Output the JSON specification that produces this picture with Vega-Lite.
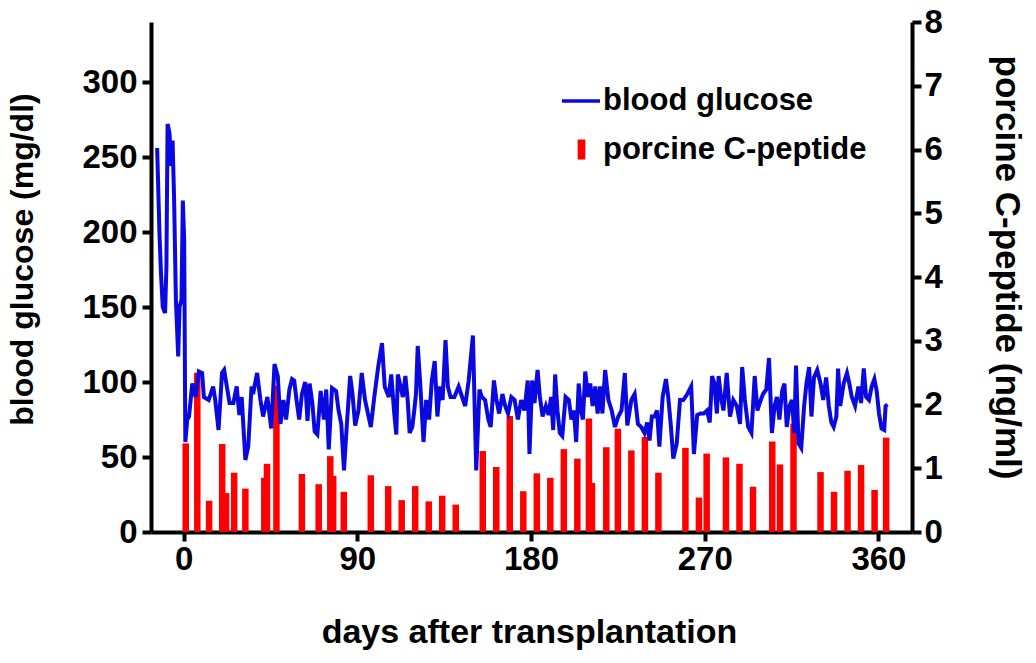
{
  "$schema": "https://vega.github.io/schema/vega-lite/v6.json",
  "width": 761,
  "height": 510,
  "autosize": {"type": "none"},
  "padding": {"left": 151, "top": 22, "right": 124, "bottom": 131},
  "background": "white",
  "config": {
    "view": {"stroke": null},
    "axis": {
      "grid": false,
      "domainColor": "black",
      "domainWidth": 4,
      "tickColor": "black",
      "tickWidth": 4,
      "tickSize": 9,
      "labelFont": "Liberation Sans",
      "labelFontWeight": "bold",
      "labelFontSize": 33,
      "labelColor": "black",
      "titleFont": "Liberation Sans",
      "titleFontWeight": "bold",
      "titleFontSize": 34,
      "titleColor": "black"
    },
    "legend": {
      "labelFont": "Liberation Sans",
      "labelFontWeight": "bold",
      "labelFontSize": 31,
      "labelColor": "black",
      "labelLimit": 0,
      "padding": 0,
      "titlePadding": 0
    }
  },
  "datasets": {
    "glucose": [
      {"day": -13.7, "glucose": 256}, {"day": -12.5, "glucose": 199}, {"day": -11.7, "glucose": 172}, {"day": -10.8, "glucose": 150},
      {"day": -9.6, "glucose": 146}, {"day": -8.9, "glucose": 177}, {"day": -8.3, "glucose": 272}, {"day": -7.3, "glucose": 266},
      {"day": -6.5, "glucose": 244}, {"day": -5.7, "glucose": 261}, {"day": -4.9, "glucose": 221}, {"day": -4.0, "glucose": 155},
      {"day": -2.8, "glucose": 117}, {"day": -2.1, "glucose": 150}, {"day": -1.1, "glucose": 155}, {"day": -0.4, "glucose": 221},
      {"day": 0.3, "glucose": 195}, {"day": 0.9, "glucose": 60}, {"day": 1.9, "glucose": 75}, {"day": 2.8, "glucose": 77},
      {"day": 4.5, "glucose": 99}, {"day": 6.2, "glucose": 90}, {"day": 7.9, "glucose": 107}, {"day": 9.6, "glucose": 106},
      {"day": 10.5, "glucose": 90}, {"day": 13.0, "glucose": 88}, {"day": 15.3, "glucose": 97}, {"day": 16.4, "glucose": 88},
      {"day": 18.1, "glucose": 68}, {"day": 19.9, "glucose": 106}, {"day": 21.0, "glucose": 108}, {"day": 22.4, "glucose": 97},
      {"day": 23.8, "glucose": 86}, {"day": 25.8, "glucose": 86}, {"day": 27.5, "glucose": 97}, {"day": 28.9, "glucose": 78},
      {"day": 30.1, "glucose": 90}, {"day": 32.0, "glucose": 48}, {"day": 33.5, "glucose": 57}, {"day": 35.2, "glucose": 97},
      {"day": 36.0, "glucose": 92}, {"day": 38.1, "glucose": 106}, {"day": 39.8, "glucose": 88}, {"day": 41.2, "glucose": 77},
      {"day": 43.4, "glucose": 90}, {"day": 45.4, "glucose": 69}, {"day": 47.1, "glucose": 112}, {"day": 48.8, "glucose": 104},
      {"day": 50.2, "glucose": 72}, {"day": 51.7, "glucose": 88}, {"day": 53.1, "glucose": 75}, {"day": 54.8, "glucose": 95},
      {"day": 56.2, "glucose": 102}, {"day": 57.3, "glucose": 101}, {"day": 58.5, "glucose": 88}, {"day": 59.9, "glucose": 75},
      {"day": 61.3, "glucose": 92}, {"day": 63.0, "glucose": 100}, {"day": 64.2, "glucose": 74}, {"day": 65.3, "glucose": 99},
      {"day": 66.7, "glucose": 86}, {"day": 67.9, "glucose": 67}, {"day": 69.3, "glucose": 65}, {"day": 71.0, "glucose": 94},
      {"day": 72.7, "glucose": 75}, {"day": 73.9, "glucose": 95}, {"day": 75.2, "glucose": 55}, {"day": 76.9, "glucose": 96},
      {"day": 79.0, "glucose": 94}, {"day": 80.3, "glucose": 81}, {"day": 81.7, "glucose": 72}, {"day": 83.1, "glucose": 41},
      {"day": 84.6, "glucose": 72}, {"day": 86.3, "glucose": 104}, {"day": 87.5, "glucose": 92}, {"day": 88.9, "glucose": 71},
      {"day": 90.6, "glucose": 81}, {"day": 92.3, "glucose": 106}, {"day": 94.0, "glucose": 88}, {"day": 97.0, "glucose": 70},
      {"day": 98.8, "glucose": 90}, {"day": 100.8, "glucose": 110}, {"day": 102.8, "glucose": 126}, {"day": 104.2, "glucose": 97},
      {"day": 106.3, "glucose": 90}, {"day": 107.6, "glucose": 105}, {"day": 109.0, "glucose": 81}, {"day": 110.2, "glucose": 65},
      {"day": 111.0, "glucose": 105}, {"day": 112.4, "glucose": 97}, {"day": 113.6, "glucose": 90}, {"day": 114.9, "glucose": 104},
      {"day": 116.1, "glucose": 88}, {"day": 117.1, "glucose": 66}, {"day": 118.5, "glucose": 70}, {"day": 119.5, "glucose": 81},
      {"day": 120.4, "glucose": 92}, {"day": 121.3, "glucose": 124}, {"day": 122.6, "glucose": 99}, {"day": 124.3, "glucose": 60},
      {"day": 125.7, "glucose": 88}, {"day": 127.2, "glucose": 75}, {"day": 128.6, "glucose": 101}, {"day": 130.1, "glucose": 114},
      {"day": 131.5, "glucose": 77}, {"day": 132.8, "glucose": 97}, {"day": 134.2, "glucose": 88}, {"day": 135.7, "glucose": 128},
      {"day": 136.9, "glucose": 97}, {"day": 138.3, "glucose": 90}, {"day": 140.3, "glucose": 90}, {"day": 142.5, "glucose": 97},
      {"day": 144.3, "glucose": 90}, {"day": 145.9, "glucose": 84}, {"day": 147.7, "glucose": 101}, {"day": 149.9, "glucose": 131},
      {"day": 151.6, "glucose": 41}, {"day": 153.3, "glucose": 95}, {"day": 154.5, "glucose": 90}, {"day": 156.2, "glucose": 88},
      {"day": 157.9, "glucose": 75}, {"day": 159.1, "glucose": 70}, {"day": 160.8, "glucose": 101}, {"day": 162.1, "glucose": 88},
      {"day": 163.5, "glucose": 79}, {"day": 165.2, "glucose": 92}, {"day": 166.6, "glucose": 84}, {"day": 168.1, "glucose": 79},
      {"day": 169.8, "glucose": 90}, {"day": 171.5, "glucose": 88}, {"day": 173.2, "glucose": 75}, {"day": 174.9, "glucose": 88},
      {"day": 176.6, "glucose": 81}, {"day": 178.3, "glucose": 101}, {"day": 179.2, "glucose": 52}, {"day": 180.6, "glucose": 101},
      {"day": 181.8, "glucose": 86}, {"day": 183.4, "glucose": 108}, {"day": 184.6, "glucose": 90}, {"day": 186.0, "glucose": 77},
      {"day": 187.7, "glucose": 84}, {"day": 189.1, "glucose": 78}, {"day": 190.4, "glucose": 90}, {"day": 191.5, "glucose": 68},
      {"day": 192.5, "glucose": 105}, {"day": 193.7, "glucose": 81}, {"day": 194.9, "glucose": 66}, {"day": 196.2, "glucose": 64},
      {"day": 197.9, "glucose": 90}, {"day": 199.6, "glucose": 88}, {"day": 200.9, "glucose": 75}, {"day": 202.2, "glucose": 81},
      {"day": 203.4, "glucose": 60}, {"day": 204.7, "glucose": 99}, {"day": 205.9, "glucose": 81}, {"day": 206.9, "glucose": 75},
      {"day": 208.1, "glucose": 107}, {"day": 209.5, "glucose": 90}, {"day": 210.7, "glucose": 99}, {"day": 211.9, "glucose": 84},
      {"day": 213.3, "glucose": 97}, {"day": 214.5, "glucose": 79}, {"day": 215.8, "glucose": 97}, {"day": 217.0, "glucose": 79},
      {"day": 218.4, "glucose": 108}, {"day": 220.1, "glucose": 88}, {"day": 221.8, "glucose": 81}, {"day": 223.5, "glucose": 70},
      {"day": 225.2, "glucose": 77}, {"day": 226.9, "glucose": 81}, {"day": 228.6, "glucose": 106}, {"day": 229.9, "glucose": 71},
      {"day": 232.0, "glucose": 88}, {"day": 233.7, "glucose": 92}, {"day": 235.4, "glucose": 72}, {"day": 237.1, "glucose": 70},
      {"day": 238.8, "glucose": 66}, {"day": 240.2, "glucose": 73}, {"day": 241.4, "glucose": 61}, {"day": 242.6, "glucose": 77},
      {"day": 243.9, "glucose": 77}, {"day": 245.3, "glucose": 81}, {"day": 246.5, "glucose": 57}, {"day": 248.2, "glucose": 90},
      {"day": 249.9, "glucose": 102}, {"day": 251.1, "glucose": 90}, {"day": 252.5, "glucose": 70}, {"day": 253.7, "glucose": 49},
      {"day": 255.5, "glucose": 59}, {"day": 257.2, "glucose": 88}, {"day": 258.9, "glucose": 88}, {"day": 261.0, "glucose": 92},
      {"day": 263.0, "glucose": 97}, {"day": 264.4, "glucose": 52}, {"day": 266.1, "glucose": 78}, {"day": 267.8, "glucose": 79},
      {"day": 269.5, "glucose": 79}, {"day": 271.2, "glucose": 81}, {"day": 272.6, "glucose": 73}, {"day": 273.8, "glucose": 104},
      {"day": 275.0, "glucose": 99}, {"day": 276.3, "glucose": 79}, {"day": 277.2, "glucose": 104}, {"day": 278.4, "glucose": 90},
      {"day": 279.7, "glucose": 81}, {"day": 281.4, "glucose": 106}, {"day": 283.1, "glucose": 77}, {"day": 284.8, "glucose": 88},
      {"day": 286.6, "glucose": 84}, {"day": 288.3, "glucose": 72}, {"day": 289.4, "glucose": 110}, {"day": 290.8, "glucose": 88},
      {"day": 292.5, "glucose": 70}, {"day": 294.2, "glucose": 66}, {"day": 295.9, "glucose": 104}, {"day": 297.3, "glucose": 81},
      {"day": 298.5, "glucose": 86}, {"day": 300.2, "glucose": 92}, {"day": 301.9, "glucose": 95}, {"day": 303.3, "glucose": 116},
      {"day": 304.8, "glucose": 66}, {"day": 306.2, "glucose": 84}, {"day": 307.4, "glucose": 90}, {"day": 308.7, "glucose": 75},
      {"day": 310.1, "glucose": 94}, {"day": 311.3, "glucose": 99}, {"day": 312.5, "glucose": 70}, {"day": 313.9, "glucose": 84},
      {"day": 315.2, "glucose": 88}, {"day": 316.4, "glucose": 66}, {"day": 317.3, "glucose": 111}, {"day": 318.6, "glucose": 59},
      {"day": 320.0, "glucose": 56}, {"day": 321.5, "glucose": 84}, {"day": 322.7, "glucose": 99}, {"day": 324.1, "glucose": 110},
      {"day": 325.3, "glucose": 77}, {"day": 326.6, "glucose": 103}, {"day": 328.3, "glucose": 108}, {"day": 330.0, "glucose": 99},
      {"day": 331.4, "glucose": 88}, {"day": 332.9, "glucose": 103}, {"day": 334.3, "glucose": 84}, {"day": 335.6, "glucose": 73},
      {"day": 336.8, "glucose": 70}, {"day": 338.2, "glucose": 77}, {"day": 339.1, "glucose": 109}, {"day": 340.2, "glucose": 84},
      {"day": 342.0, "glucose": 99}, {"day": 343.7, "glucose": 106}, {"day": 344.9, "glucose": 99}, {"day": 346.2, "glucose": 90},
      {"day": 347.9, "glucose": 84}, {"day": 349.6, "glucose": 97}, {"day": 351.0, "glucose": 86}, {"day": 352.4, "glucose": 109},
      {"day": 353.6, "glucose": 90}, {"day": 355.1, "glucose": 88}, {"day": 356.5, "glucose": 97}, {"day": 357.9, "glucose": 102},
      {"day": 359.1, "glucose": 94}, {"day": 360.3, "glucose": 79}, {"day": 361.6, "glucose": 69}, {"day": 363.0, "glucose": 68},
      {"day": 363.7, "glucose": 84}, {"day": 364.7, "glucose": 85}
    ],
    "cpep": [
      {"day": 1.1, "cpeptide": 1.39}, {"day": 7.1, "cpeptide": 2.5}, {"day": 13.2, "cpeptide": 0.49}, {"day": 20.0, "cpeptide": 1.38},
      {"day": 22.0, "cpeptide": 0.61}, {"day": 26.2, "cpeptide": 0.93}, {"day": 32.0, "cpeptide": 0.68}, {"day": 41.8, "cpeptide": 0.85},
      {"day": 43.2, "cpeptide": 1.07}, {"day": 48.1, "cpeptide": 2.3}, {"day": 61.3, "cpeptide": 0.91}, {"day": 70.0, "cpeptide": 0.75},
      {"day": 76.0, "cpeptide": 1.19}, {"day": 77.5, "cpeptide": 0.88}, {"day": 83.0, "cpeptide": 0.63}, {"day": 97.0, "cpeptide": 0.89},
      {"day": 106.0, "cpeptide": 0.72}, {"day": 113.0, "cpeptide": 0.5}, {"day": 120.0, "cpeptide": 0.72}, {"day": 127.0, "cpeptide": 0.48},
      {"day": 134.0, "cpeptide": 0.57}, {"day": 141.0, "cpeptide": 0.43}, {"day": 155.0, "cpeptide": 1.27}, {"day": 162.0, "cpeptide": 1.02},
      {"day": 169.0, "cpeptide": 1.82}, {"day": 176.0, "cpeptide": 0.64}, {"day": 183.0, "cpeptide": 0.92}, {"day": 190.0, "cpeptide": 0.85},
      {"day": 197.0, "cpeptide": 1.3}, {"day": 204.0, "cpeptide": 1.15}, {"day": 210.0, "cpeptide": 1.78}, {"day": 211.6, "cpeptide": 0.77},
      {"day": 219.0, "cpeptide": 1.33}, {"day": 225.0, "cpeptide": 1.62}, {"day": 232.0, "cpeptide": 1.28}, {"day": 239.0, "cpeptide": 1.49},
      {"day": 246.0, "cpeptide": 0.93}, {"day": 260.0, "cpeptide": 1.32}, {"day": 267.0, "cpeptide": 0.54}, {"day": 271.0, "cpeptide": 1.23},
      {"day": 281.0, "cpeptide": 1.17}, {"day": 288.0, "cpeptide": 1.07}, {"day": 295.0, "cpeptide": 0.71}, {"day": 305.0, "cpeptide": 1.42},
      {"day": 309.0, "cpeptide": 1.06}, {"day": 316.0, "cpeptide": 1.7}, {"day": 330.0, "cpeptide": 0.94}, {"day": 337.0, "cpeptide": 0.63},
      {"day": 344.0, "cpeptide": 0.96}, {"day": 351.0, "cpeptide": 1.05}, {"day": 358.0, "cpeptide": 0.66}, {"day": 364.0, "cpeptide": 1.48}
    ]
  },
  "layer": [
    {
      "data": {"name": "cpep"},
      "mark": {"type": "bar", "size": 6.5},
      "encoding": {
        "x": {
          "field": "day", "type": "quantitative",
          "scale": {"domain": [-14.3, 374.8], "nice": false, "zero": false},
          "axis": {"values": [0, 90, 180, 270, 360], "title": "days after transplantation", "labelPadding": 2, "titleX": 378, "titleY": 100, "titleBaseline": "middle", "titleAlign": "center"}
        },
        "y": {
          "field": "cpeptide", "type": "quantitative",
          "scale": {"domain": [0, 8], "nice": false},
          "axis": {"orient": "right", "values": [0, 1, 2, 3, 4, 5, 6, 7, 8], "title": "porcine C-peptide (ng/ml)", "titleFontSize": 35, "labelPadding": 3, "titleX": 94, "titleY": 245, "titleBaseline": "middle", "titleAlign": "center", "titleAngle": 90}
        },
        "color": {
          "datum": "porcine C-peptide",
          "scale": {"range": ["#ff0000"]},
          "legend": {"title": null, "orient": "none", "legendX": 415, "legendY": 112, "symbolType": "M-0.385,-1H0.385V1H-0.385Z", "symbolSize": 400, "symbolStrokeWidth": 0, "symbolFillColor": "#ff0000", "labelOffset": 6}
        }
      }
    },
    {
      "data": {"name": "glucose"},
      "mark": {"type": "line", "strokeWidth": 4, "interpolate": "linear"},
      "encoding": {
        "x": {"field": "day", "type": "quantitative"},
        "y": {
          "field": "glucose", "type": "quantitative",
          "scale": {"domain": [0, 340], "nice": false},
          "axis": {"orient": "left", "values": [0, 50, 100, 150, 200, 250, 300], "title": "blood glucose (mg/dl)", "titleFontSize": 32, "labelPadding": 5, "titleX": -129, "titleY": 237, "titleBaseline": "middle", "titleAlign": "center", "titleAngle": -90}
        },
        "color": {
          "datum": "blood glucose",
          "scale": {"range": ["#0a0ae0"]},
          "legend": {"title": null, "orient": "none", "legendX": 409, "legendY": 58, "symbolType": "stroke", "symbolSize": 1444, "symbolStrokeWidth": 3.5, "labelOffset": 1}
        }
      }
    }
  ],
  "resolve": {"scale": {"y": "independent", "color": "independent"}}
}
